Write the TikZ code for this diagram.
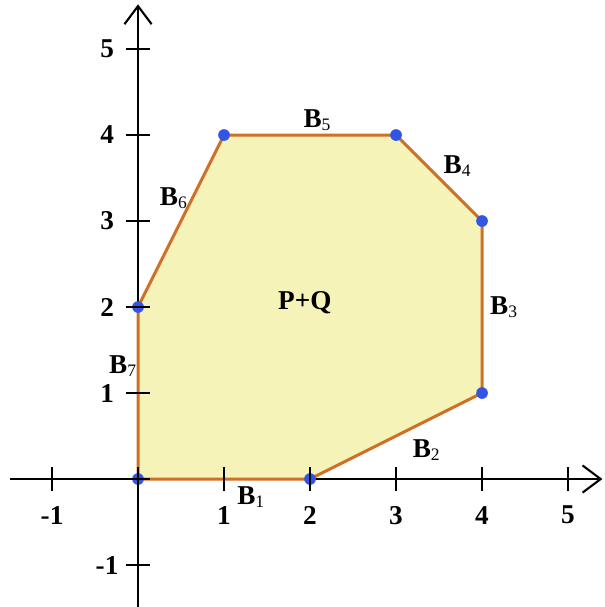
\documentclass[tikz,border=0pt]{standalone}
\usepackage{fontspec}
\setmainfont{Liberation Serif}
\usetikzlibrary{arrows.meta, positioning, calc}
\definecolor{sumfill}{RGB}{245, 243, 184}
\definecolor{sumedge}{RGB}{208, 112, 40}
\definecolor{sumdot}{RGB}{50, 85, 230}
\newcommand{\Bl}[1]{B\textsubscript{\fontsize{5.8}{6}\selectfont\mdseries #1}}

\begin{document}
\begin{tikzpicture}[>={Straight Barb[length=6pt,width=9pt]}, font=\fontsize{9}{10}\selectfont\bfseries]
\useasboundingbox (-1.605, -1.488) rectangle (5.419, 5.570);
\tikzset{
  axisline/.style={line width=0.7pt, black},
  tick/.style={line width=0.7pt, black},
  edgelbl/.style={inner sep=0pt}
}

% --- Polígono P+Q ---
\coordinate (v1) at (0, 0);
\coordinate (v2) at (2, 0);
\coordinate (v3) at (4, 1);
\coordinate (v4) at (4, 3);
\coordinate (v5) at (3, 4);
\coordinate (v6) at (1, 4);
\coordinate (v7) at (0, 2);
\fill[sumfill] (v1) -- (v2) -- (v3) -- (v4) -- (v5) -- (v6) -- (v7) -- cycle;

% --- Ejes ---
\coordinate (xmin) at (-1.49, 0);
\coordinate (xmax) at (5.40, 0);
\coordinate (ymin) at (0, -1.49);
\coordinate (ymax) at (0, 5.52);
\draw[axisline, ->] (xmin) -- (xmax);
\draw[axisline, ->] (ymin) -- (ymax);
\foreach \i in {-1, 1, 2, 3, 4, 5} {
    \node at (\i, -0.42) {\i};
    \node at (-0.36, \i) {\i};
}

% --- Aristas ---
\draw[line width=1pt, sumedge, line join=round] (v1) -- (v2) -- (v3) -- (v4) -- (v5) -- (v6) -- (v7) -- cycle;

% --- Vértices ---
\foreach \p in {v1, v2, v3, v4, v5, v6, v7} {
    \fill[sumdot] (\p) circle (0.068);
}

% --- Marcas ---
\foreach \i in {-1, 0, 1, 2, 3, 4, 5} {
    \draw[tick] (\i, -0.14) -- (\i, 0.14);
    \draw[tick] (-0.14, \i) -- (0.14, \i);
}

% --- Etiquetas ---
\node[edgelbl] (b1) at (1.32, -0.21) {\Bl{1}};
\node[edgelbl] (b2) at (3.36, 0.34) {\Bl{2}};
\node[edgelbl] (b3) at (4.26, 2.0) {\Bl{3}};
\node[edgelbl] (b4) at (3.72, 3.64) {\Bl{4}};
\node[edgelbl] (b5) at (2.09, 4.17) {\Bl{5}};
\node[edgelbl] (b6) at (0.42, 3.27) {\Bl{6}};
\node[edgelbl] (b7) at (-0.17, 1.31) {\Bl{7}};
\node (pq) at (1.94, 2.05) {P+Q};

\end{tikzpicture}
\end{document}
